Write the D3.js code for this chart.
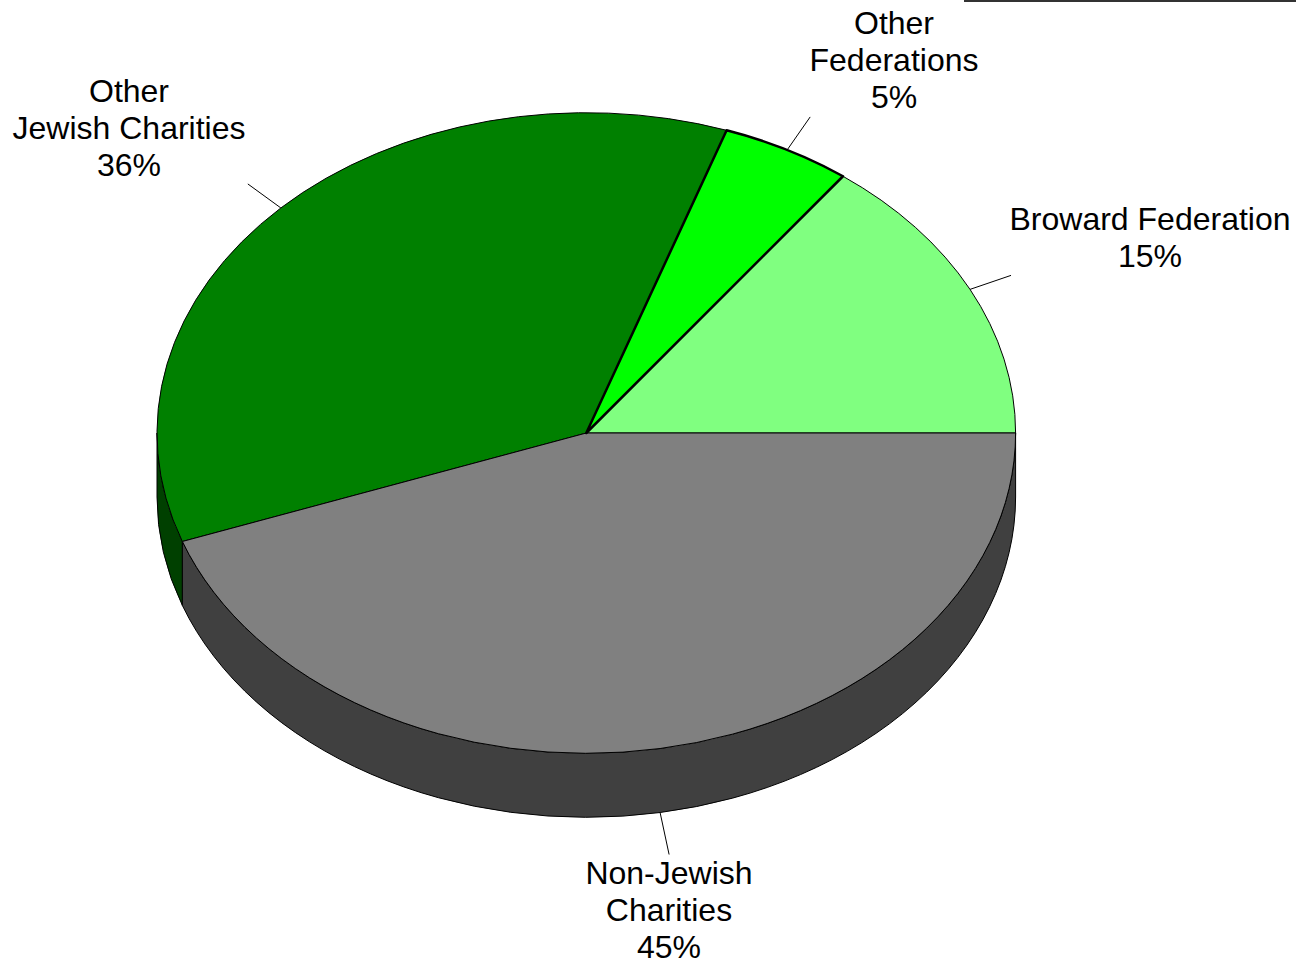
<!DOCTYPE html>
<html>
<head>
<meta charset="utf-8">
<script src="https://cdn.jsdelivr.net/npm/d3@7"></script>
<style>
  html, body { margin: 0; padding: 0; background: #fff; }
  svg { display: block; }
  text { font-family: "Liberation Sans", Arial, sans-serif; font-size: 32px; fill: #000; }
</style>
</head>
<body>
<svg id="chart" width="1296" height="960"></svg>
<script>
// ---- data ----
const categories = ["Broward Federation", "Other Federations", "Other Jewish Charities", "Non-Jewish Charities"];
const values = [14.8, 4.9, 35.8, 44.5];
const percentLabels = ["15%", "5%", "36%", "45%"];
const labelLines = [["Broward Federation"], ["Other", "Federations"], ["Other", "Jewish Charities"], ["Non-Jewish", "Charities"]];
const topColors = ["#80FF80", "#00FF00", "#008000", "#808080"];
const sideColors = ["#408040", "#008000", "#004000", "#404040"];

// ---- layout ----
const W = 1296, H = 960;
const cx = 586.3, cy = 433, rx = 429.3, ry = 320.3, depth = 64;
const lineH = 37;
// label layout: text center x, first baseline y, leader outer point offset
const labelLayout = [
  { x: 1150, y: 230, dx: 41, dy: -14 },
  { x: 894, y: 33.5, dx: 23, dy: -33 },
  { x: 129, y: 101.5, dx: -33, dy: -24 },
  { x: 669, y: 884, dx: 9, dy: 42 }
];

const svg = d3.select("#chart");

const pie = d3.pie().sort(null).value(d => d).startAngle(0).endAngle(2 * Math.PI);
const arcs = pie(values);

const px = phi => cx + rx * Math.cos(phi);
const py = phi => cy - ry * Math.sin(phi);

function topPath(a0, a1) {
  const large = (a1 - a0) > Math.PI ? 1 : 0;
  return `M${cx},${cy}L${px(a0)},${py(a0)}A${rx},${ry} 0 ${large} 0 ${px(a1)},${py(a1)}Z`;
}
function sidePath(a0, a1) {
  const large = (a1 - a0) > Math.PI ? 1 : 0;
  return `M${px(a0)},${py(a0)}A${rx},${ry} 0 ${large} 0 ${px(a1)},${py(a1)}` +
         `L${px(a1)},${py(a1) + depth}A${rx},${ry} 0 ${large} 1 ${px(a0)},${py(a0) + depth}Z`;
}

// sides (front half only: phi in [PI, 2PI])
const sides = svg.append("g");
arcs.forEach((d, i) => {
  const a0 = Math.max(d.startAngle, Math.PI);
  const a1 = Math.min(d.endAngle, 2 * Math.PI);
  if (a1 > a0) {
    sides.append("path")
      .attr("d", sidePath(a0, a1))
      .attr("fill", sideColors[i])
      .attr("stroke", "#000")
      .attr("stroke-width", 1)
      .attr("stroke-linejoin", "round");
  }
});

// tops
const tops = svg.append("g");
arcs.forEach((d, i) => {
  tops.append("path")
    .attr("d", topPath(d.startAngle, d.endAngle))
    .attr("fill", topColors[i])
    .attr("stroke", "#000")
    .attr("stroke-width", 1)
    .attr("stroke-linejoin", "round");
});
// emphasised outline of the small slice (as in reference)
tops.append("path")
  .attr("d", topPath(arcs[1].startAngle, arcs[1].endAngle))
  .attr("fill", "none")
  .attr("stroke", "#000")
  .attr("stroke-width", 2.5)
  .attr("stroke-linejoin", "round");

// leader lines + labels
const lab = svg.append("g");
arcs.forEach((d, i) => {
  const mid = (d.startAngle + d.endAngle) / 2;
  const x0 = px(mid);
  const y0 = py(mid) + (Math.sin(mid) < 0 ? depth : 0);
  const L = labelLayout[i];
  lab.append("line")
    .attr("x1", x0).attr("y1", y0)
    .attr("x2", x0 + L.dx).attr("y2", y0 + L.dy)
    .attr("stroke", "#000").attr("stroke-width", 1);
  const lines = labelLines[i].concat([percentLabels[i]]);
  const t = lab.append("text").attr("text-anchor", "middle");
  lines.forEach((s, k) => {
    t.append("tspan").attr("x", L.x).attr("y", L.y + k * lineH).text(s);
  });
});

// thin border fragment at top right
svg.append("line")
  .attr("x1", 964).attr("y1", 1).attr("x2", W).attr("y2", 1)
  .attr("stroke", "#333").attr("stroke-width", 2);
</script>
</body>
</html>
